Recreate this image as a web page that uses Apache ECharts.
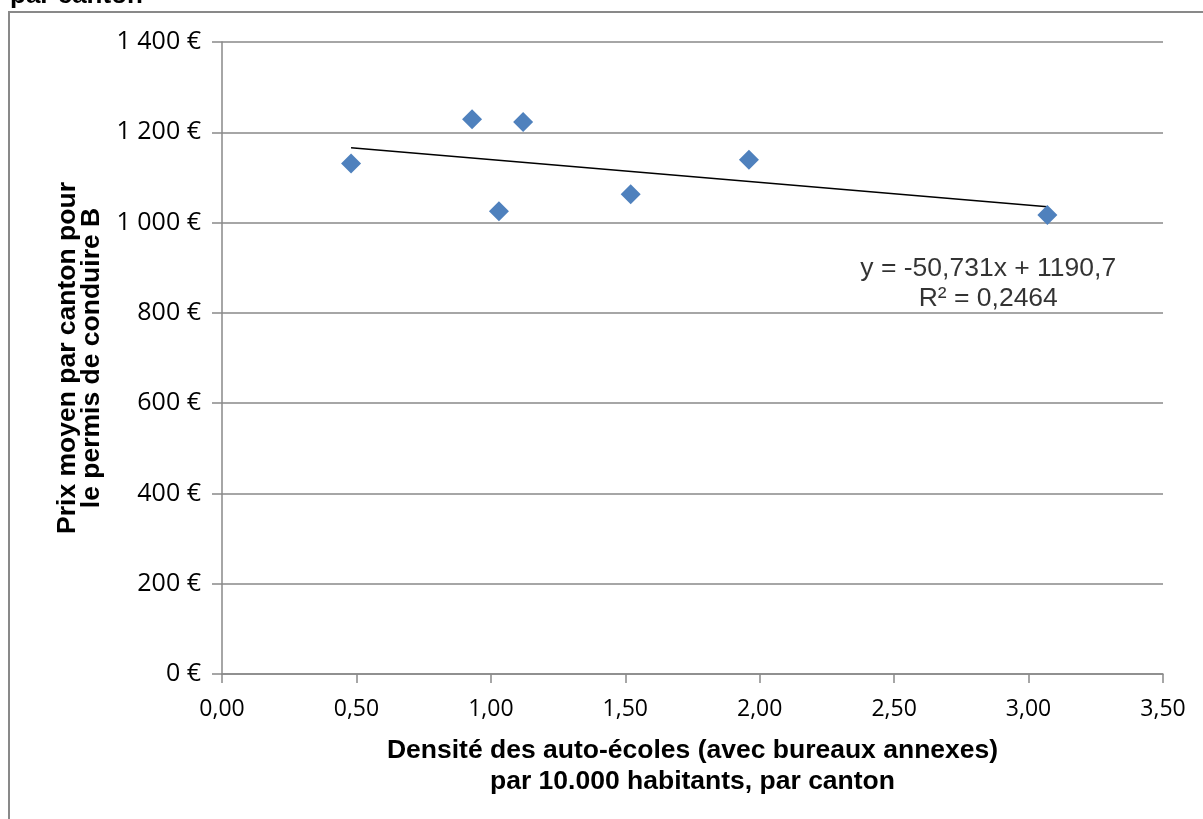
<!DOCTYPE html>
<html>
<head>
<meta charset="utf-8">
<script src="https://cdn.jsdelivr.net/npm/echarts@6/dist/echarts.min.js"></script>
<style>
  html, body { margin: 0; padding: 0; background: #fff; }
  #main { width: 1203px; height: 819px; }
</style>
</head>
<body>
<div id="main"></div>
<script>
// densité des auto-écoles (x) et prix moyen (y)
const densite = [0.48, 0.93, 1.12, 1.03, 1.52, 1.96, 3.07];
const prix = [1131, 1229, 1223, 1025, 1063, 1139, 1017];
// courbe de tendance (extrémités)
const tendanceX = [0.48, 3.07];
const tendanceY = [1166, 1035];
const equation = ["y = -50,731x + 1190,7", "R² = 0,2464"];

const points = densite.map((x, i) => [x, prix[i]]);
const tendance = tendanceX.map((x, i) => [x, tendanceY[i]]);

var chartDom = document.getElementById("main");
var myChart = echarts.init(chartDom);

const font = "'Liberation Sans', Arial, sans-serif";
const tickFont = "'Open Sans', sans-serif";

const option = {
  animation: false,
  backgroundColor: "#fff",
  grid: { left: 222, right: 40, top: 42, bottom: 145 },
  graphic: [
    {
      type: "rect",
      shape: { x: 9, y: 12, width: 1300, height: 900 },
      style: { fill: "none", stroke: "#898989", lineWidth: 2 }
    },
    {
      type: "text",
      left: 10,
      top: -17,
      style: { text: "par canton", font: "bold 26px " + font, fill: "#000" }
    }
  ],
  xAxis: {
    type: "value",
    min: 0,
    max: 3.5,
    interval: 0.5,
    name: "Densité des auto-écoles (avec bureaux annexes)\npar 10.000 habitants, par canton",
    nameLocation: "middle",
    nameGap: 61,
    nameTextStyle: { fontFamily: font, fontWeight: "bold", fontSize: 26.5, color: "#000", lineHeight: 31 },
    axisLine: { show: true, lineStyle: { color: "#898989", width: 1.5 } },
    axisTick: { show: true, length: 9, lineStyle: { color: "#898989", width: 1.5 } },
    axisLabel: {
      fontFamily: tickFont,
      fontSize: 23,
      color: "#000",
      margin: 24,
      formatter: (v) => v.toFixed(2).replace(".", ",")
    },
    splitLine: { show: false }
  },
  yAxis: {
    type: "value",
    min: 0,
    max: 1400,
    interval: 200,
    name: "Prix moyen par canton pour\nle permis de conduire B",
    nameLocation: "middle",
    nameGap: 116,
    nameRotate: 90,
    nameTextStyle: { fontFamily: font, fontWeight: "bold", fontSize: 26.5, color: "#000", lineHeight: 24 },
    axisLine: { show: true, lineStyle: { color: "#898989", width: 1.5 } },
    axisTick: { show: true, length: 10, lineStyle: { color: "#898989", width: 1.5 } },
    axisLabel: {
      fontFamily: tickFont,
      fontSize: 25,
      color: "#000",
      margin: 21,
      formatter: (v) => {
        const s = String(v).replace(/\B(?=(\d{3})+(?!\d))/g, "\u00a0");
        return s + "\u00a0€";
      }
    },
    splitLine: { show: true, lineStyle: { color: "#898989", width: 1.5 } }
  },
  series: [
    {
      name: "Tendance",
      type: "line",
      data: tendance,
      symbol: "none",
      lineStyle: { color: "#000", width: 1.5 },
      z: 2,
      silent: true
    },
    {
      name: "Prix",
      type: "scatter",
      data: points,
      symbol: "diamond",
      symbolSize: 20,
      itemStyle: { color: "#4F81BD", opacity: 1 },
      z: 3
    },
    {
      name: "Equation",
      type: "scatter",
      data: [[2.85, 865]],
      symbolSize: 0,
      silent: true,
      label: {
        show: true,
        position: "inside",
        formatter: equation.join("\n"),
        fontFamily: font,
        fontSize: 26.5,
        lineHeight: 30,
        align: "center",
        color: "#000",
        textBorderWidth: 0
      }
    }
  ]
};

myChart.setOption(option);
</script>
</body>
</html>
